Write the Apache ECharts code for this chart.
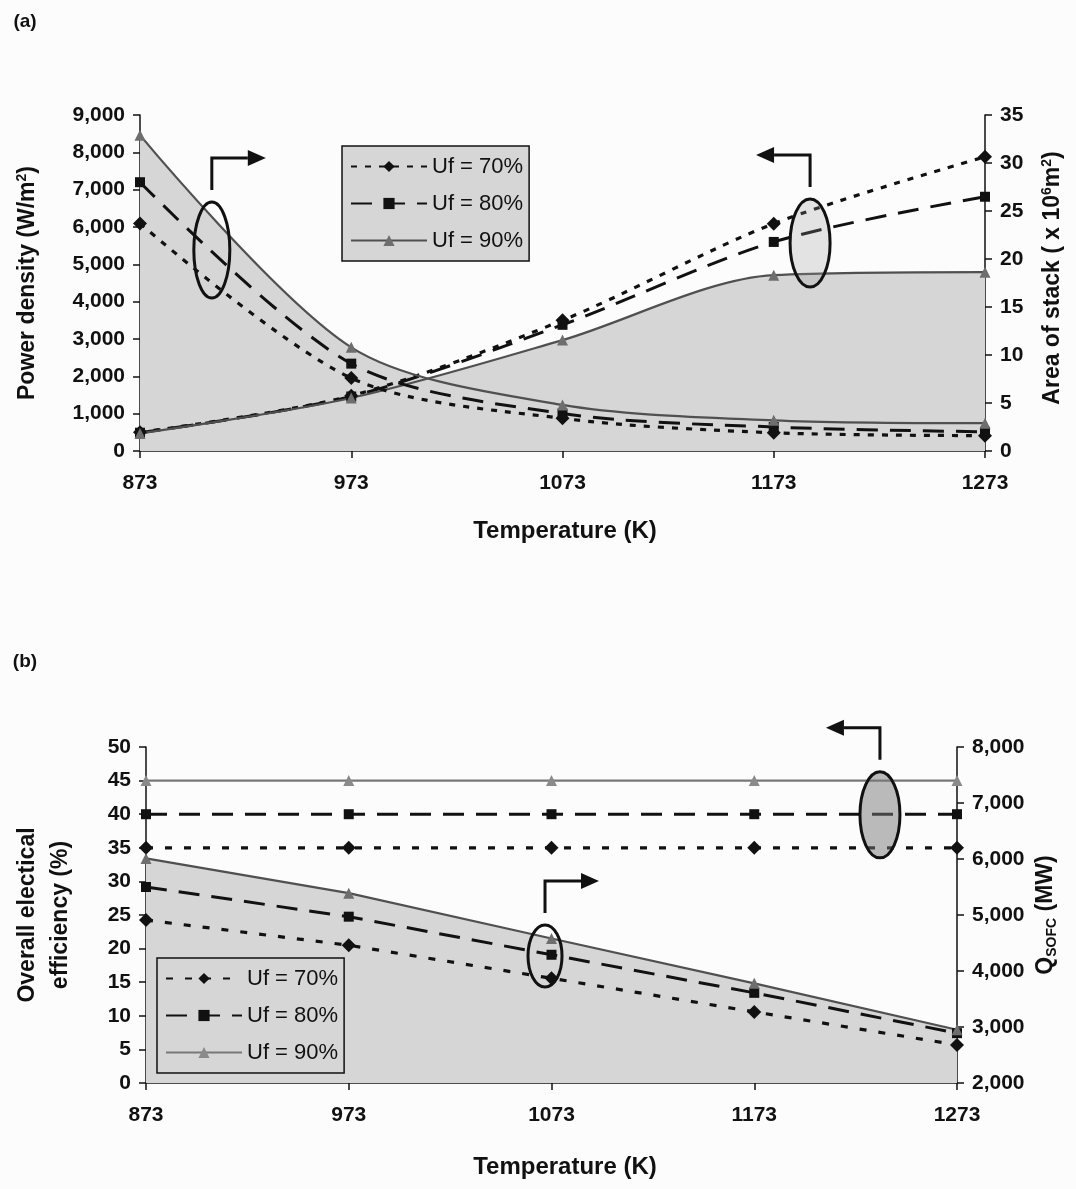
<!DOCTYPE html>
<html>
<head>
<meta charset="utf-8">
<script src="https://cdn.jsdelivr.net/npm/echarts@6/dist/echarts.min.js"></script>
<style>
  html, body { margin: 0; padding: 0; background: #fcfcfc; }
  #chart { width: 1076px; height: 1189px; }
</style>
</head>
<body>
<div id="chart"></div>
<script>
const temps = ['873', '973', '1073', '1173', '1273'];

// (a) power density, W/m2 (left axis)
const pdUf70 = [500, 1480, 3500, 6090, 7880];
const pdUf80 = [490, 1460, 3380, 5600, 6810];
const pdUf90 = [470, 1420, 2970, 4710, 4790];

// (a) area of stack, x 10^6 m2 (right axis)
const stackUf70 = [23.7, 7.6, 3.4, 1.9, 1.6];
const stackUf80 = [28.0, 9.1, 3.9, 2.5, 2.0];
const stackUf90 = [32.9, 10.8, 4.8, 3.2, 2.9];

// (b) overall electrical efficiency, % (left axis)
const effUf70 = [35, 35, 35, 35, 35];
const effUf80 = [40, 40, 40, 40, 40];
const effUf90 = [45, 45, 45, 45, 45];

// (b) Q_SOFC, MW (right axis)
const qUf70 = [4910, 4460, 3870, 3270, 2680];
const qUf80 = [5500, 4970, 4290, 3610, 2890];
const qUf90 = [6010, 5390, 4580, 3780, 2950];

const legendNames = ['Uf = 70%', 'Uf = 80%', 'Uf = 90%'];

const FONT = '"Liberation Sans", Arial, sans-serif';
const FILL = '#d6d6d6';
const ink = '#111';
const SMOOTH = 0.3;

const fmt = v => v.toLocaleString('en-US');

function xAxisFor(gridIndex) {
  return {
    type: 'category',
    gridIndex: gridIndex,
    data: temps,
    boundaryGap: false,
    axisLine: { lineStyle: { color: ink, width: 1.5 } },
    axisTick: { length: 7, lineStyle: { color: ink, width: 1.5 } },
    axisLabel: { margin: 22, color: ink, fontFamily: FONT, fontWeight: 'bold', fontSize: 21 },
    splitLine: { show: false }
  };
}

function yAxisFor(gridIndex, position, min, max, interval, formatter) {
  return {
    type: 'value',
    gridIndex: gridIndex,
    position: position,
    min: min,
    max: max,
    interval: interval,
    axisLine: { show: true, lineStyle: { color: ink, width: 1.5 } },
    axisTick: { show: true, length: 7, lineStyle: { color: ink, width: 1.5 } },
    axisLabel: {
      margin: 15, color: ink, fontFamily: FONT, fontWeight: 'bold', fontSize: 21,
      formatter: formatter
    },
    splitLine: { show: false }
  };
}

// one line series; style picks the Uf look
function line(name, data, xi, yi, kind, smooth, part) {
  const s = {
    name: name,
    type: 'line',
    xAxisIndex: xi,
    yAxisIndex: yi,
    data: data,
    smooth: smooth,
    z: 5,
    animation: false
  };
  if (kind === 70) {
    s.symbol = 'diamond';
    s.symbolSize = 14;
    s.itemStyle = { color: ink };
    s.lineStyle = { color: ink, width: 3.2, type: part === 'b' ? [7, 12] : [6, 8] };
  } else if (kind === 80) {
    s.symbol = 'rect';
    s.symbolSize = 10;
    s.itemStyle = { color: ink };
    s.lineStyle = { color: ink, width: 3, type: [21, 12] };
  } else {
    s.symbol = 'triangle';
    s.symbolSize = 11;
    const light = part === 'b-light';
    s.itemStyle = { color: light ? '#8a8a8a' : '#6e6e6e' };
    s.lineStyle = { color: light ? '#787878' : '#505050', width: light ? 2.2 : 2.2 };
  }
  return s;
}

function fill(data, xi, yi, smooth) {
  return {
    name: '_fill',
    type: 'line',
    xAxisIndex: xi,
    yAxisIndex: yi,
    data: data,
    smooth: smooth,
    symbol: 'none',
    lineStyle: { width: 0 },
    areaStyle: { color: FILL, opacity: 1 },
    z: 1,
    silent: true,
    animation: false
  };
}

const legendBase = {
  orient: 'vertical',
  itemWidth: 76,
  itemHeight: 14,
  itemGap: 12,
  backgroundColor: FILL,
  borderColor: ink,
  borderWidth: 1.5,
  padding: [8, 6, 8, 8],
  textStyle: { color: ink, fontFamily: FONT, fontSize: 22, lineHeight: 25 },
  selectedMode: false
};

const chart = echarts.init(document.getElementById('chart'));

chart.setOption({
  backgroundColor: '#fcfcfc',
  animation: false,
  grid: [
    { left: 140, right: 91, top: 115, height: 336 },
    { left: 146, right: 119, top: 747, height: 336 }
  ],
  xAxis: [xAxisFor(0), xAxisFor(1)],
  yAxis: [
    yAxisFor(0, 'left', 0, 9000, 1000, fmt),
    yAxisFor(0, 'right', 0, 35, 5),
    yAxisFor(1, 'left', 0, 50, 5),
    yAxisFor(1, 'right', 2000, 8000, 1000, fmt)
  ],
  legend: [
    Object.assign({}, legendBase, {
      left: 342, top: 146,
      data: legendNames.map(n => n + ' (a)'),
      formatter: n => n.replace(' (a)', '')
    }),
    Object.assign({}, legendBase, {
      left: 157, top: 958,
      data: legendNames.map(n => n + ' (b)'),
      formatter: n => n.replace(' (b)', '')
    })
  ],
  series: [
    // (a)
    fill(pdUf90, 0, 0, SMOOTH),
    fill(stackUf90, 0, 1, SMOOTH),
    line('Uf = 70% (a)', pdUf70, 0, 0, 70, SMOOTH, 'a'),
    line('Uf = 80% (a)', pdUf80, 0, 0, 80, SMOOTH, 'a'),
    line('Uf = 90% (a)', pdUf90, 0, 0, 90, SMOOTH, 'a'),
    line('stack 70%', stackUf70, 0, 1, 70, SMOOTH, 'a'),
    line('stack 80%', stackUf80, 0, 1, 80, SMOOTH, 'a'),
    line('stack 90%', stackUf90, 0, 1, 90, SMOOTH, 'a'),
    // (b)
    fill(qUf90, 1, 3, false),
    line('Uf = 70% (b)', effUf70, 1, 2, 70, false, 'b'),
    line('Uf = 80% (b)', effUf80, 1, 2, 80, false, 'b'),
    line('Uf = 90% (b)', effUf90, 1, 2, 90, false, 'b-light'),
    line('Q 70%', qUf70, 1, 3, 70, false, 'b'),
    line('Q 80%', qUf80, 1, 3, 80, false, 'b'),
    line('Q 90%', qUf90, 1, 3, 90, false, 'b')
  ]
});

// plot rectangle of a grid, read back from the axes
function rectOf(xi, yi, yTop, yBottom) {
  const tl = chart.convertToPixel({ xAxisIndex: xi, yAxisIndex: yi }, [0, yTop]);
  const br = chart.convertToPixel({ xAxisIndex: xi, yAxisIndex: yi }, [temps.length - 1, yBottom]);
  return { x: tl[0], y: tl[1], w: br[0] - tl[0], h: br[1] - tl[1] };
}

const rectA = rectOf(0, 0, 9000, 0);
const rectB = rectOf(1, 2, 50, 0);

// callouts: ellipse + bent arrow telling which axis a group belongs to
const callouts = [
  { r: rectA, fx: 0.085, fy: 0.402, rx: 18, ry: 48, dir: 1, fill: 'none' },
  { r: rectA, fx: 0.793, fy: 0.381, rx: 20, ry: 44, dir: -1, fill: 'rgba(150,150,150,0.25)' },
  { r: rectB, fx: 0.905, fy: 0.202, rx: 20, ry: 43, dir: -1, fill: 'rgba(120,120,120,0.5)' },
  { r: rectB, fx: 0.492, fy: 0.622, rx: 17, ry: 31, dir: 1, fill: 'none' }
];

const elements = [];
callouts.forEach(c => {
  const cx = c.r.x + c.fx * c.r.w;
  const cy = c.r.y + c.fy * c.r.h;
  const top = cy - c.ry;
  const y0 = top - 12;
  const y1 = top - 44;
  const x1 = cx + c.dir * 36;
  elements.push({
    type: 'ellipse', z: 50,
    shape: { cx: cx, cy: cy, rx: c.rx, ry: c.ry },
    style: { fill: c.fill, stroke: ink, lineWidth: 3 }
  });
  elements.push({
    type: 'polyline', z: 50,
    shape: { points: [[cx, y0], [cx, y1], [x1, y1]] },
    style: { stroke: ink, lineWidth: 3, fill: 'none' }
  });
  elements.push({
    type: 'polygon', z: 50,
    shape: { points: [[x1, y1 - 8], [x1 + c.dir * 18, y1], [x1, y1 + 8]] },
    style: { fill: ink }
  });
});

function txt(x, y, text, size, rotate, extra) {
  return {
    type: 'text', z: 60,
    x: x, y: y,
    rotation: rotate ? Math.PI / 2 : 0,
    style: Object.assign({
      text: text,
      fill: ink,
      fontFamily: FONT,
      fontWeight: 'bold',
      fontSize: size,
      align: 'center',
      verticalAlign: 'middle'
    }, extra || {})
  };
}

const sup = { fontSize: 14, fontWeight: 'bold', fontFamily: FONT, verticalAlign: 'top', lineHeight: 26, fill: ink };
const norm = { fontSize: 23, fontWeight: 'bold', fontFamily: FONT, lineHeight: 26, fill: ink };

elements.push(
  txt(25, 22, '(a)', 19, false),
  txt(25, 662, '(b)', 19, false),
  txt(28, 283, '{n|Power density (W/m}{s|2}{n|)}', 23, true, { rich: { n: norm, s: sup } }),
  txt(1053, 278, '{n|Area of stack ( x 10}{s|6}{n|m}{s|2}{n|)}', 23, true, { rich: { n: norm, s: sup } }),
  txt(565, 531, 'Temperature (K)', 24, false),
  txt(44, 915, 'Overall electical\nefficiency (%)', 23, true, { lineHeight: 33 }),
  txt(1046, 915, '{n|Q}{d|SOFC}{n| (MW)}', 23, true, {
    rich: {
      n: norm,
      d: { fontSize: 14, fontWeight: 'bold', fontFamily: FONT, verticalAlign: 'bottom', lineHeight: 26, fill: ink }
    }
  }),
  txt(565, 1167, 'Temperature (K)', 24, false)
);

chart.setOption({ graphic: elements });
</script>
</body>
</html>
